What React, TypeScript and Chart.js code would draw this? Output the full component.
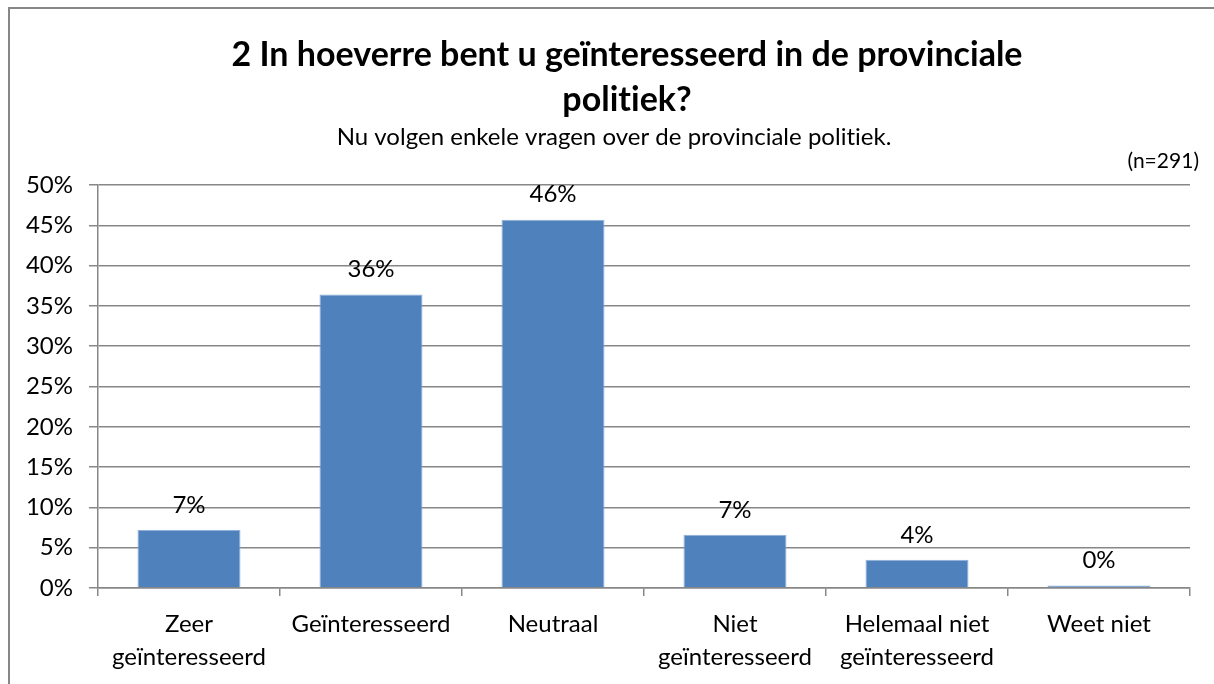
import React, { useEffect, useRef } from "react";
import { Chart, registerables } from "chart.js";

Chart.register(...registerables);

const categories: string[][] = [
  ["Zeer", "geïnteresseerd"],
  ["Geïnteresseerd"],
  ["Neutraal"],
  ["Niet", "geïnteresseerd"],
  ["Helemaal niet", "geïnteresseerd"],
  ["Weet niet"],
];
const values: number[] = [7.2, 36.4, 45.7, 6.6, 3.5, 0.3];
const valueLabels: string[] = ["7%", "36%", "46%", "7%", "4%", "0%"];
const titleLines: string[] = ["2 In hoeverre bent u geïnteresseerd in de provinciale", "politiek?"];
const subtitleText = "Nu volgen enkele vragen over de provinciale politiek.";
const sampleNote = "(n=291)";
const yMin = 0;
const yMax = 50;
const yStep = 5;

const FONT = "Lato, 'Open Sans', sans-serif";
const GRID = "#878787";
const BAR = "#4f81bd";

function noLig(ctx: any) {
  try {
    ctx.textRendering = "optimizeSpeed";
  } catch (e) {}
  try {
    ctx.letterSpacing = "0.01px";
  } catch (e) {}
}

const decorPlugin = {
  id: "decor",
  beforeDraw(chart: any) {
    const ctx = chart.ctx;
    ctx.save();
    ctx.fillStyle = "#ffffff";
    ctx.fillRect(0, 0, chart.width, chart.height);
    ctx.strokeStyle = GRID;
    ctx.lineWidth = 2;
    ctx.beginPath();
    ctx.moveTo(9, chart.height + 5);
    ctx.lineTo(9, 8);
    ctx.lineTo(chart.width + 5, 8);
    ctx.stroke();
    ctx.restore();
  },
  afterDraw(chart: any) {
    const ctx = chart.ctx;
    ctx.save();
    noLig(ctx);
    ctx.fillStyle = "#000000";
    ctx.textAlign = "center";
    ctx.textBaseline = "middle";
    ctx.font = `bold 34px ${FONT}`;
    ctx.fillText(titleLines[0], 627, 55);
    ctx.fillText(titleLines[1], 627, 100);
    ctx.font = `24px ${FONT}`;
    ctx.fillText(subtitleText, 614, 137);
    ctx.font = `21px ${FONT}`;
    ctx.textAlign = "right";
    ctx.fillText(sampleNote, 1199, 161);
    // value labels
    ctx.textAlign = "center";
    ctx.font = `24px ${FONT}`;
    const meta = chart.getDatasetMeta(0);
    meta.data.forEach((bar: any, i: number) => {
      ctx.fillText(valueLabels[i], bar.x, bar.y - 25);
    });
    ctx.restore();
  },
};

export default function App() {
  const ref = useRef<HTMLCanvasElement | null>(null);
  useEffect(() => {
    if (!ref.current) return;
    const chart = new Chart(ref.current, {
      type: "bar",
      data: {
        labels: categories,
        datasets: [
          {
            data: values,
            backgroundColor: BAR,
            borderColor: "#8fb0d8",
            borderWidth: 1,
            categoryPercentage: 1,
            barPercentage: 0.566,
          },
        ],
      },
      options: {
        responsive: false,
        animation: false,
        layout: { padding: { left: 8, top: 185, right: 24, bottom: 0 } },
        plugins: {
          legend: { display: false },
          title: { display: false },
          tooltip: { enabled: false },
        },
        scales: {
          x: {
            grid: {
              drawOnChartArea: false,
              drawTicks: true,
              tickLength: 8,
              color: GRID,
              lineWidth: 1.5,
            },
            border: { display: true, color: GRID, width: 1.5 },
            ticks: {
              color: "#000000",
              font: { family: FONT, size: 24, lineHeight: 1.38 },
              padding: 12,
              maxRotation: 0,
              autoSkip: false,
            },
            afterFit(scale: any) {
              scale.height = 96;
            },
          },
          y: {
            min: yMin,
            max: yMax,
            grid: {
              color: GRID,
              lineWidth: 1.5,
              drawTicks: true,
              tickLength: 9,
            },
            border: { display: true, color: GRID, width: 1.5 },
            ticks: {
              stepSize: yStep,
              color: "#000000",
              font: { family: FONT, size: 24 },
              padding: 16,
              callback: (v: any) => `${v}%`,
            },
            afterFit(scale: any) {
              scale.width = 90;
            },
          },
        },
      },
      plugins: [decorPlugin],
    });
    return () => chart.destroy();
  }, []);
  return (
    <div style={{ position: "absolute", left: 0, top: 0, width: 1214, height: 684 }}>
      <canvas ref={ref} width={1214} height={684} style={{ display: "block" }} />
    </div>
  );
}
